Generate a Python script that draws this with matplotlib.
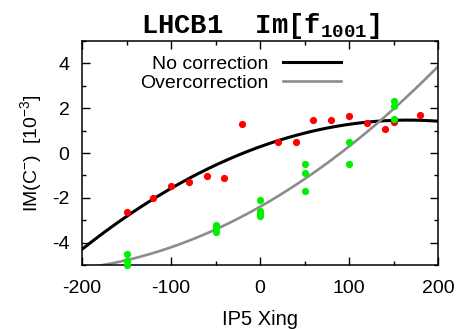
import numpy as np
import matplotlib
matplotlib.use("Agg")
import matplotlib.pyplot as plt
from matplotlib.ticker import MultipleLocator

plt.rcParams['font.family'] = ['Liberation Sans', 'DejaVu Sans']
plt.rcParams['axes.unicode_minus'] = False
plt.rcParams['mathtext.fontset'] = 'custom'
plt.rcParams['mathtext.rm'] = 'Liberation Sans'
plt.rcParams['mathtext.it'] = 'Liberation Sans:italic'
plt.rcParams['mathtext.bf'] = 'Liberation Sans:bold'
plt.rcParams['mathtext.tt'] = 'Liberation Mono:bold'

# === data ===
red_x = [-150, -120, -100, -80, -60, -40, -20, 20, 40, 60, 80, 100, 120, 140, 150, 180]
red_y = [-2.62, -2.0, -1.49, -1.29, -1.02, -1.13, 1.29, 0.48, 0.50, 1.49, 1.47, 1.64, 1.32, 1.05, 1.37, 1.70]

green_x = [-150, -150, -150, -50, -50, -50, 0, 0, 0, 0, 50, 50, 50, 100, 100, 150, 150, 150]
green_y = [-4.5, -4.8, -5.0, -3.21, -3.35, -3.53, -2.1, -2.58, -2.73, -2.83,
           -0.50, -0.91, -1.71, 0.50, -0.50, 2.30, 2.09, 1.50]

# fit curves, y = c2*t^2 + c1*t + c0 with t = x/100
no_corr_coef = [-0.43, 1.43, 0.28]
over_corr_coef = [0.44, 2.25, -2.40]

legend_labels = ['No correction', 'Overcorrection']

# === plot ===
fig = plt.figure(figsize=(4.58, 3.29), dpi=100)
ax = fig.add_axes([82 / 458, 1 - 265 / 329, 356 / 458, 224 / 329])

xs = np.linspace(-200, 200, 400)
ax.plot(xs, np.polyval(no_corr_coef, xs / 100), color='black', lw=2.2, label=legend_labels[0])
ax.plot(xs, np.polyval(over_corr_coef, xs / 100), color='#8c8c8c', lw=1.9, label=legend_labels[1])

ax.plot(red_x, red_y, 'o', color='#ff0000', ms=5.2, mec='none', clip_on=False, zorder=3)
ax.plot(green_x, green_y, 'o', color='#00f000', ms=5.2, mec='none', clip_on=False, zorder=4)

ax.set_xlim(-200, 200)
ax.set_ylim(-5, 5)
ax.xaxis.set_major_locator(MultipleLocator(100))
ax.xaxis.set_minor_locator(MultipleLocator(50))
ax.yaxis.set_major_locator(MultipleLocator(2))
ax.yaxis.set_minor_locator(MultipleLocator(1))
ax.tick_params(which='both', direction='in', top=True, right=True, labelsize=14, width=1.0)
ax.tick_params(which='major', length=6)
ax.tick_params(axis='x', which='major', pad=11)
ax.tick_params(axis='y', which='major', pad=9)
ax.tick_params(which='minor', length=3)
for s in ax.spines.values():
    s.set_linewidth(1.1)

ax.set_xlabel('IP5 Xing', fontsize=14.5, labelpad=9)
ax.set_ylabel(r'IM(C$^{-}$)  [10$^{-3}$]', fontsize=14, labelpad=6)
ax.set_title(r'LHCB1  Im[$\mathtt{f_{1001}}$]', fontsize=19.5,
             family='Liberation Mono', weight='bold', pad=5)

ax.legend(loc='upper right', bbox_to_anchor=(0.739, 0.955), frameon=False,
          markerfirst=False, handlelength=3.0, handletextpad=0.75,
          labelspacing=0.1, fontsize=14, borderpad=0.2, borderaxespad=0)

fig.savefig('out.png', dpi=100)
